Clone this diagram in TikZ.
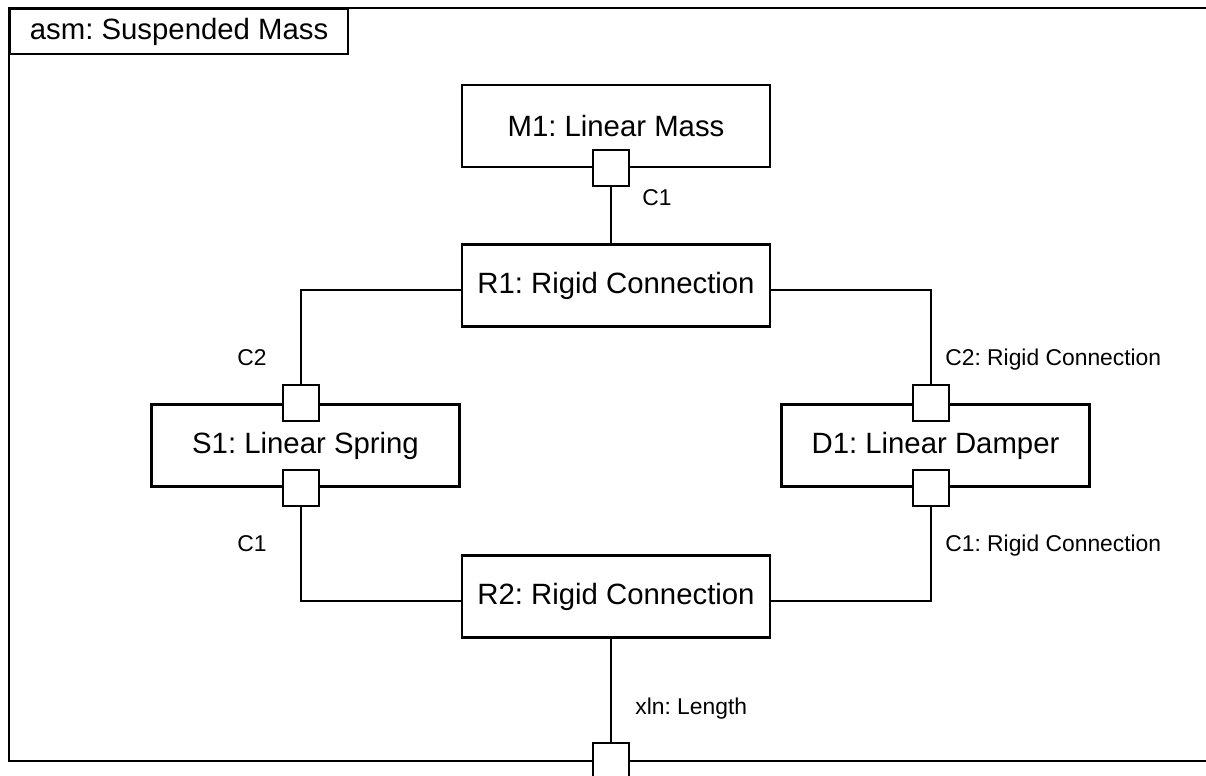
\documentclass[tikz,border=0pt]{standalone}
\usepackage{fontspec}
\setmainfont{Liberation Sans}
\frenchspacing
\usetikzlibrary{positioning}
\tikzset{
    partBox/.style={rectangle, draw=black, line width=1.3pt, fill=white, inner sep=0pt, minimum width=6.16cm, minimum height=1.64cm, font=\fontsize{16.7}{20}\selectfont},
    portBox/.style={rectangle, draw=black, line width=1.3pt, fill=white, inner sep=0pt, minimum size=0.72cm},
    conLine/.style={line width=1.3pt, black},
    conLabel/.style={anchor=base west, inner sep=0pt, font=\fontsize{13}{15}\selectfont}
}

\begin{document}
\begin{tikzpicture}[x=0.02cm, y=-0.02cm]
    \useasboundingbox (0,0) rectangle (1206,776);
    \fill[white] (0,0) rectangle (1206,776);
    \clip (0,0) rectangle (1206,776);
    % --- frame ---
    \draw[line width=1.6pt] (9,8) rectangle (1240,761);
    \node[draw, line width=1.3pt, anchor=north west, inner sep=0pt, minimum width=6.76cm, minimum height=0.9cm, font=\fontsize{16.7}{20}\selectfont] (tab) at (9,8) {asm: Suspended Mass};
    % --- parts ---
    \node[partBox] (m1) at (616,126) {M1: Linear Mass};
    \node[partBox] (r1) at (616,285.5) {R1: Rigid Connection};
    \node[partBox] (s1) at (305.5,445.5) {S1: Linear Spring};
    \node[partBox] (d1) at (935.5,445.5) {D1: Linear Damper};
    \node[partBox] (r2) at (616,596.5) {R2: Rigid Connection};
    % --- ports ---
    \node[portBox] (m1c1) at (611,168) {};
    \node[portBox] (s1c2) at (301,403) {};
    \node[portBox] (s1c1) at (301,488) {};
    \node[portBox] (d1c2) at (931,403) {};
    \node[portBox] (d1c1) at (931,488) {};
    \node[portBox] (xln) at (611,761) {};
    % --- connectors ---
    \draw[conLine] (m1c1.south) -- (m1c1.south |- r1.north);
    \draw[conLine] ([yshift=-0.09cm]r1.west) -| (s1c2.north);
    \draw[conLine] ([yshift=-0.09cm]r1.east) -| (d1c2.north);
    \draw[conLine] ([yshift=-0.09cm]r2.west) -| (s1c1.south);
    \draw[conLine] ([yshift=-0.09cm]r2.east) -| (d1c1.south);
    \draw[conLine] (xln.north |- r2.south) -- (xln.north);
    % --- labels ---
    \node[conLabel] (lm1c1) at (642,206) {C1};
    \node[conLabel] (ls1c2) at (237,365.5) {C2};
    \node[conLabel] (ls1c1) at (237,551.5) {C1};
    \node[conLabel] (ld1c2) at (945,365.5) {C2: Rigid Connection};
    \node[conLabel] (ld1c1) at (945,551.5) {C1: Rigid Connection};
    \node[conLabel] (lxln) at (635,714) {xln: Length};
\end{tikzpicture}
\end{document}
